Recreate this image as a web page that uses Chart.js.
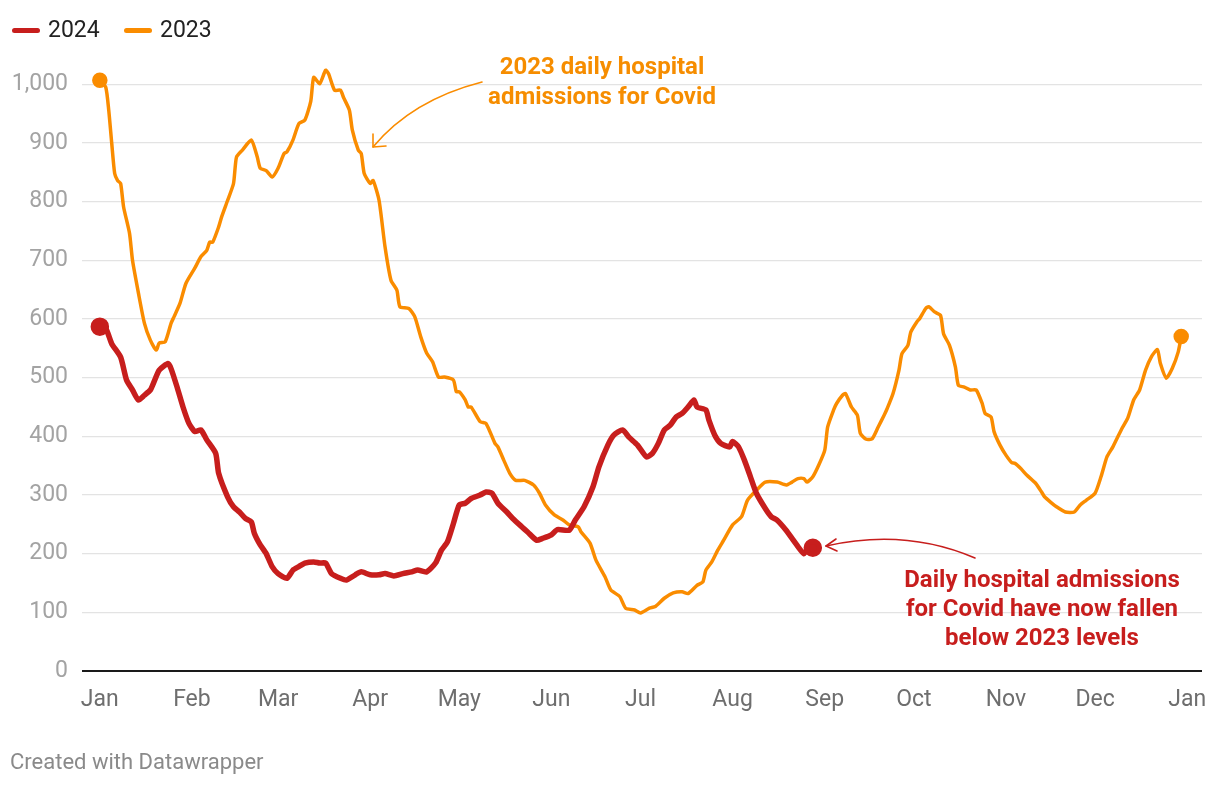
<!DOCTYPE html>
<html>
<head>
<meta charset="utf-8">
<script src="https://cdn.jsdelivr.net/npm/chart.js@4"></script>
<style>
  body { margin: 0; background: #fff; font-family: Roboto, sans-serif; }
  #wrap { position: relative; width: 1220px; height: 788px; }
  canvas { position: absolute; left: 0; top: 0; }
  .legend { position: absolute; top: 17px; font-size: 23px; color: #222; line-height: 26px; }
  .swatch { position: absolute; top: 11px; width: 28px; height: 5px; border-radius: 3px; }
  .note { position: absolute; font-weight: 700; font-size: 24px; text-align: center; }
  .footer { position: absolute; left: 10px; top: 749px; font-size: 22px; color: #8a8a8a; }
</style>
</head>
<body>
<div id="wrap">
  <canvas id="chart" width="1220" height="788"></canvas>
  <div class="legend" style="left:12px">
    <span class="swatch" style="left:0;background:#c71e1d"></span>
    <span style="position:absolute;left:36px">2024</span>
  </div>
  <div class="legend" style="left:124px">
    <span class="swatch" style="left:0;background:#fa8c00"></span>
    <span style="position:absolute;left:36px">2023</span>
  </div>
  <div class="note" style="left:432px;top:51px;width:340px;line-height:30px;color:#f68d00">2023 daily hospital<br>admissions for Covid</div>
  <div class="note" style="left:862px;top:565px;width:360px;line-height:29px;color:#c71e1d">Daily hospital admissions<br>for Covid have now fallen<br>below 2023 levels</div>
  <div class="footer">Created with Datawrapper</div>
</div>
<script>
// month starts (days since 1 Jan, leap year)
const monthTicks = [0, 31, 60, 91, 121, 152, 182, 213, 244, 274, 305, 335, 366];
const monthLabels = ['Jan', 'Feb', 'Mar', 'Apr', 'May', 'Jun', 'Jul', 'Aug', 'Sep', 'Oct', 'Nov', 'Dec', 'Jan'];
const yTicks = [0, 100, 200, 300, 400, 500, 600, 700, 800, 900, 1000];

// 2024 daily admissions (7-day avg)
const days2024 = [0, 2, 4, 7, 9, 11, 13, 15, 17, 18, 20, 23, 24, 26, 28, 30, 32, 34, 36, 39, 40, 43, 45, 47, 49, 51, 52, 54, 56, 58, 60, 63, 65, 67, 69, 72, 74, 76, 78, 81, 83, 86, 88, 91, 94, 96, 99, 102, 105, 107, 110, 113, 115, 117, 119, 121, 123, 125, 128, 130, 132, 134, 137, 139, 142, 144, 147, 149, 152, 154, 158, 160, 163, 166, 168, 171, 173, 176, 178, 181, 184, 186, 188, 190, 192, 194, 196, 198, 200, 201, 204, 205, 207, 209, 212, 213, 215, 217, 219, 221, 224, 226, 228, 231, 233, 235, 237, 238, 240];
const values2024 = [587, 584, 558, 535, 496, 479, 462, 470, 479, 490, 513, 524, 515, 484, 450, 422, 408, 411, 394, 371, 337, 297, 280, 271, 260, 254, 235, 215, 200, 178, 166, 158, 172, 178, 184, 186, 184, 184, 166, 158, 155, 164, 169, 164, 164, 166, 162, 166, 169, 172, 169, 184, 206, 220, 251, 283, 286, 294, 300, 305, 303, 286, 271, 260, 246, 237, 223, 226, 232, 241, 240, 257, 280, 314, 348, 385, 402, 411, 399, 385, 365, 371, 388, 411, 419, 433, 439, 450, 462, 450, 445, 428, 402, 388, 382, 391, 382, 359, 331, 303, 277, 263, 257, 240, 226, 212, 200, 206, 210];

// 2023 daily admissions
const days2023 = [0, 2, 3, 4, 5, 6, 7, 8, 10, 11, 13, 15, 17, 19, 20, 22, 24, 25, 27, 29, 32, 34, 36, 37, 38, 40, 41, 43, 45, 46, 48, 51, 53, 54, 56, 58, 60, 62, 63, 65, 67, 69, 71, 72, 74, 76, 77, 79, 81, 82, 84, 85, 87, 88, 89, 91, 92, 94, 96, 98, 100, 101, 104, 106, 108, 110, 112, 114, 116, 119, 120, 121, 123, 124, 125, 128, 130, 133, 134, 136, 138, 140, 143, 146, 148, 150, 153, 156, 158, 161, 162, 165, 167, 170, 172, 175, 177, 180, 182, 185, 187, 190, 193, 196, 198, 201, 203, 204, 206, 208, 210, 213, 216, 218, 221, 224, 228, 231, 233, 235, 237, 238, 240, 242, 244, 245, 247, 248, 250, 251, 253, 255, 256, 258, 260, 262, 264, 265, 267, 269, 270, 272, 273, 275, 276, 278, 279, 281, 283, 284, 286, 288, 289, 291, 293, 295, 297, 298, 300, 301, 303, 305, 307, 308, 310, 312, 315, 317, 318, 320, 322, 325, 328, 330, 332, 335, 337, 339, 341, 344, 346, 348, 350, 352, 354, 356, 357, 359, 361, 363, 364];
const values2023 = [1007, 995, 956, 900, 848, 836, 831, 791, 746, 700, 644, 593, 564, 547, 559, 561, 593, 604, 627, 661, 687, 706, 717, 731, 731, 757, 774, 802, 831, 876, 888, 905, 876, 857, 853, 842, 857, 882, 885, 905, 933, 939, 971, 1012, 1001, 1024, 1018, 990, 990, 978, 956, 922, 888, 882, 848, 831, 836, 802, 723, 666, 649, 621, 618, 604, 570, 542, 527, 501, 501, 496, 476, 476, 462, 450, 450, 425, 422, 388, 382, 359, 337, 325, 325, 317, 303, 283, 266, 257, 249, 246, 237, 218, 189, 161, 138, 127, 107, 104, 99, 107, 110, 124, 133, 135, 132, 146, 152, 172, 186, 206, 223, 249, 263, 291, 308, 322, 322, 317, 322, 328, 328, 322, 331, 351, 376, 416, 445, 456, 470, 473, 450, 436, 405, 395, 396, 416, 436, 447, 473, 513, 541, 555, 578, 595, 601, 618, 621, 612, 606, 575, 555, 518, 487, 484, 479, 479, 456, 439, 433, 408, 385, 368, 355, 354, 345, 334, 320, 305, 297, 288, 280, 271, 271, 283, 291, 303, 331, 365, 382, 413, 431, 462, 479, 513, 536, 548, 524, 499, 516, 544, 570];

const RED = '#c71e1d';
const ORANGE = '#fa8c00';

function toPoints(days, values) {
  return days.map((d, i) => ({ x: d, y: values[i] }));
}

function endDots(r) {
  return ctx => {
    const n = ctx.dataset.data.length;
    return (ctx.dataIndex === 0 || ctx.dataIndex === n - 1) ? r : 0;
  };
}

// curved annotation arrows
const arrows = {
  id: 'arrows',
  afterDraw(chart) {
    const c = chart.ctx;
    c.save();
    c.lineCap = 'round';
    c.lineJoin = 'round';
    // orange arrow
    c.strokeStyle = ORANGE;
    c.lineWidth = 1.6;
    c.beginPath();
    c.moveTo(482, 82);
    c.quadraticCurveTo(412, 100, 373, 147);
    c.stroke();
    c.beginPath();
    c.moveTo(373, 134);
    c.lineTo(373, 147);
    c.lineTo(386, 146);
    c.stroke();
    // red arrow
    c.strokeStyle = RED;
    c.beginPath();
    c.moveTo(975, 558);
    c.quadraticCurveTo(905, 528, 826, 546);
    c.stroke();
    c.beginPath();
    c.moveTo(836, 539);
    c.lineTo(826, 546);
    c.lineTo(837, 551);
    c.stroke();
    c.restore();
  }
};

new Chart(document.getElementById('chart'), {
  type: 'line',
  data: {
    datasets: [
      {
        label: '2024',
        data: toPoints(days2024, values2024),
        borderColor: RED,
        backgroundColor: RED,
        borderWidth: 5.5,
        tension: 0.2,
        pointRadius: endDots(6.5),
        pointHoverRadius: 0,
        borderCapStyle: 'round',
        borderJoinStyle: 'round'
      },
      {
        label: '2023',
        data: toPoints(days2023, values2023),
        borderColor: ORANGE,
        backgroundColor: ORANGE,
        borderWidth: 3.5,
        tension: 0.2,
        pointRadius: endDots(6),
        pointHoverRadius: 0,
        borderCapStyle: 'round',
        borderJoinStyle: 'round'
      }
    ]
  },
  options: {
    responsive: false,
    animation: false,
    events: [],
    layout: { padding: { top: 55, right: 18, left: 0, bottom: 0 } },
    plugins: {
      legend: { display: false },
      tooltip: { enabled: false }
    },
    scales: {
      x: {
        type: 'linear',
        min: -6,
        max: 371,
        afterBuildTicks: scale => { scale.ticks = monthTicks.map(v => ({ value: v })); },
        afterFit: scale => { scale.height = 117; },
        grid: { display: false },
        border: { display: false },
        ticks: {
          padding: 7,
          autoSkip: false,
          maxRotation: 0,
          color: '#6e6e6e',
          font: { family: 'Roboto', size: 23 },
          callback: v => monthLabels[monthTicks.indexOf(v)]
        }
      },
      y: {
        min: 0,
        max: 1050,
        afterBuildTicks: scale => { scale.ticks = yTicks.map(v => ({ value: v })); },
        afterFit: scale => { scale.width = 82; },
        border: { display: false },
        grid: {
          drawTicks: false,
          color: ctx => ctx.tick && ctx.tick.value === 0 ? '#1a1a1a' : '#e3e3e3',
          lineWidth: ctx => ctx.tick && ctx.tick.value === 0 ? 2 : 1.3
        },
        ticks: {
          padding: 14,
          color: '#a3a3a3',
          font: { family: 'Roboto', size: 23 },
          callback: v => v.toLocaleString('en-US')
        }
      }
    }
  },
  plugins: [arrows]
});
</script>
</body>
</html>
